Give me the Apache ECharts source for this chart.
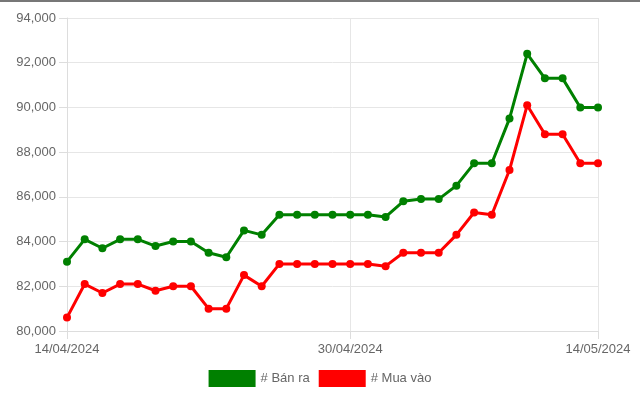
<!DOCTYPE html>
<html>
<head>
<meta charset="utf-8">
<script src="https://cdn.jsdelivr.net/npm/echarts@6/dist/echarts.min.js"></script>
<style>
html,body{margin:0;padding:0;background:#fff;}
body{border-top:2px solid #777;box-sizing:border-box;}
#c{width:640px;height:393px;}
</style>
</head>
<body>
<div id="c"></div>
<script>
const dates = ["14/04/2024","15/04/2024","16/04/2024","17/04/2024","18/04/2024","19/04/2024","20/04/2024","21/04/2024","22/04/2024","23/04/2024","24/04/2024","25/04/2024","26/04/2024","27/04/2024","28/04/2024","29/04/2024","30/04/2024","01/05/2024","02/05/2024","03/05/2024","04/05/2024","05/05/2024","06/05/2024","07/05/2024","08/05/2024","09/05/2024","10/05/2024","11/05/2024","12/05/2024","13/05/2024","14/05/2024"];
const banRa = [83100,84100,83700,84100,84100,83800,84000,84000,83500,83300,84500,84300,85200,85200,85200,85200,85200,85200,85100,85800,85900,85900,86500,87500,87500,89500,92400,91300,91300,90000,90000];
const muaVao = [80600,82100,81700,82100,82100,81800,82000,82000,81000,81000,82500,82000,83000,83000,83000,83000,83000,83000,82900,83500,83500,83500,84300,85300,85200,87200,90100,88800,88800,87500,87500];
const labelIdx = [0,16,30];
const yMin = 80000, yMax = 94000, yStep = 2000;

const chart = echarts.init(document.getElementById('c'));
const showIdx = (i) => labelIdx.indexOf(i) >= 0;
chart.setOption({
  animation:false,
  grid:{left:67,right:42,top:16,bottom:64,containLabel:false},
  legend:{
    bottom:3,left:'center',itemWidth:47,itemHeight:17,itemGap:9,
    icon:'rect',
    textStyle:{color:'#666',fontSize:13,fontFamily:'Arial, Liberation Sans, sans-serif'},
    data:['# Bán ra','# Mua vào']
  },
  xAxis:{
    type:'category',data:dates,boundaryGap:false,
    axisLine:{lineStyle:{color:'#ddd'}},
    axisTick:{show:true,interval:(i)=>showIdx(i),length:8,lineStyle:{color:'#ddd'}},
    axisLabel:{interval:(i)=>showIdx(i),color:'#666',fontSize:13,margin:12,fontFamily:'Arial, Liberation Sans, sans-serif'},
    splitLine:{show:true,interval:(i)=>showIdx(i),lineStyle:{color:'#e6e6e6'}}
  },
  yAxis:{
    type:'value',min:yMin,max:yMax,interval:yStep,
    axisLine:{show:true,lineStyle:{color:'#ddd'}},
    axisTick:{show:true,length:8,lineStyle:{color:'#ddd'}},
    axisLabel:{color:'#666',fontSize:13,margin:11,fontFamily:'Arial, Liberation Sans, sans-serif',
      formatter:(v)=>v.toLocaleString('en-US')},
    splitLine:{show:true,lineStyle:{color:'#e6e6e6'}}
  },
  series:[
    {name:'# Bán ra',type:'line',data:banRa,color:'#008000',symbol:'circle',symbolSize:8,
     lineStyle:{width:3,color:'#008000'},itemStyle:{color:'#008000'}},
    {name:'# Mua vào',type:'line',data:muaVao,color:'#ff0000',symbol:'circle',symbolSize:8,
     lineStyle:{width:3,color:'#ff0000'},itemStyle:{color:'#ff0000'}}
  ]
});
</script>
</body>
</html>
